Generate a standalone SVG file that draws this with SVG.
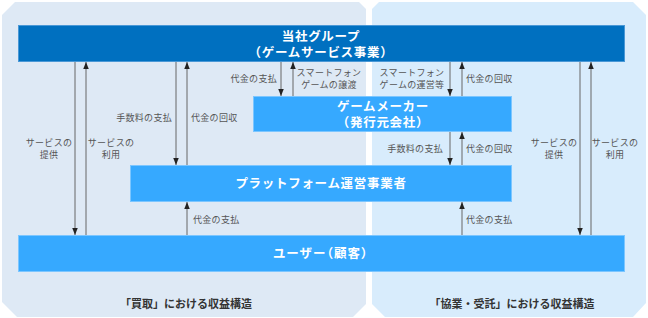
<svg xmlns="http://www.w3.org/2000/svg" width="648" height="318" viewBox="0 0 648 318">
<style>
.panelL{fill:#dee9f5}
.panelR{fill:#d8ecfc}
.dark{fill:#0070c0;stroke:#4a98d6;stroke-width:1}
.light{fill:#36a9ff;stroke:#7cc6ff;stroke-width:1}
.bt{font-family:"Liberation Sans","Noto Sans CJK JP",sans-serif;font-size:12.5px;font-weight:bold;fill:#ffffff;text-anchor:middle;letter-spacing:0.7px}
.palt{font-feature-settings:"palt";letter-spacing:1.2px}
.lb{font-family:"Noto Sans CJK JP","Noto Sans",sans-serif;font-size:9px;fill:#555555;letter-spacing:0.3px}
.c{text-anchor:middle}
.r{text-anchor:end}
.ttl{font-family:"Noto Sans CJK JP","Noto Sans",sans-serif;font-size:11px;font-weight:bold;fill:#333333;text-anchor:middle}
.ar{stroke:#666666;stroke-width:1;fill:none;marker-end:url(#ah)}
</style>
<defs>
<marker id="ah" markerUnits="userSpaceOnUse" markerWidth="7" markerHeight="6" refX="7" refY="2.75" orient="auto">
<path d="M0,0 L7,2.75 L0,5.5 Z" fill="#222222"/>
</marker>
</defs>
<g id="panels">
<path class="panelL" d="M2,15 L15,2 L359,2 L366,9 L366,304 L353,317 L17,317 L2,302 Z"/>
<path class="panelR" d="M372,9 L379,2 L633,2 L646,15 L646,303 L633,317 L385,317 L372,304 Z"/>
</g>
<g id="connectors">
<line class="ar" x1="75" y1="62" x2="75" y2="235"/>
<line class="ar" x1="86" y1="235" x2="86" y2="62"/>
<line class="ar" x1="176" y1="62" x2="176" y2="165"/>
<line class="ar" x1="187" y1="165" x2="187" y2="62"/>
<line class="ar" x1="281" y1="62" x2="281" y2="96"/>
<line class="ar" x1="293" y1="96" x2="293" y2="62"/>
<line class="ar" x1="450" y1="62" x2="450" y2="96"/>
<line class="ar" x1="462" y1="96" x2="462" y2="62"/>
<line class="ar" x1="450" y1="132" x2="450" y2="165"/>
<line class="ar" x1="462" y1="165" x2="462" y2="132"/>
<line class="ar" x1="187" y1="235" x2="187" y2="202"/>
<line class="ar" x1="462" y1="235" x2="462" y2="202"/>
<line class="ar" x1="580" y1="62" x2="580" y2="235"/>
<line class="ar" x1="591" y1="235" x2="591" y2="62"/>
<text class="lb c" x="49" y="146">サービスの</text>
<text class="lb c" x="49" y="158">提供</text>
<text class="lb c" x="111" y="146">サービスの</text>
<text class="lb c" x="111" y="158">利用</text>
<text class="lb r" x="172" y="121">手数料の支払</text>
<text class="lb" x="191" y="121">代金の回収</text>
<text class="lb r" x="277" y="82">代金の支払</text>
<text class="lb c" x="329" y="76">スマートフォン</text>
<text class="lb c" x="329" y="88">ゲームの譲渡</text>
<text class="lb c" x="412" y="76">スマートフォン</text>
<text class="lb c" x="412" y="88">ゲームの運営等</text>
<text class="lb" x="466" y="82">代金の回収</text>
<text class="lb r" x="443" y="152">手数料の支払</text>
<text class="lb" x="466" y="152">代金の回収</text>
<text class="lb" x="193" y="223">代金の支払</text>
<text class="lb" x="466" y="223">代金の支払</text>
<text class="lb c" x="554" y="146">サービスの</text>
<text class="lb c" x="554" y="158">提供</text>
<text class="lb c" x="615" y="146">サービスの</text>
<text class="lb c" x="615" y="158">利用</text>
</g>
<g id="node-group">
<rect class="dark" x="18.5" y="25.5" width="606" height="36"/>
<text class="bt" x="321" y="40.5">当社グループ</text>
<text class="bt" x="321" y="56.5">（ゲームサービス事業）</text>
</g>
<g id="node-maker">
<rect class="light" x="253.5" y="96.5" width="258" height="35"/>
<text class="bt" x="383" y="111">ゲームメーカー</text>
<text class="bt" x="383" y="126.5">（発行元会社）</text>
</g>
<g id="node-platform">
<rect class="light" x="130.5" y="165.5" width="381" height="36"/>
<text class="bt" x="321" y="188">プラットフォーム運営事業者</text>
</g>
<g id="node-user">
<rect class="light" x="18.5" y="235.5" width="606" height="36"/>
<text class="bt palt" x="321" y="258">ユーザー（顧客）</text>
</g>
<g id="titles">
<text class="ttl" x="186" y="308">「買取」における収益構造</text>
<text class="ttl" x="512" y="308">「協業・受託」における収益構造</text>
</g>
</svg>
